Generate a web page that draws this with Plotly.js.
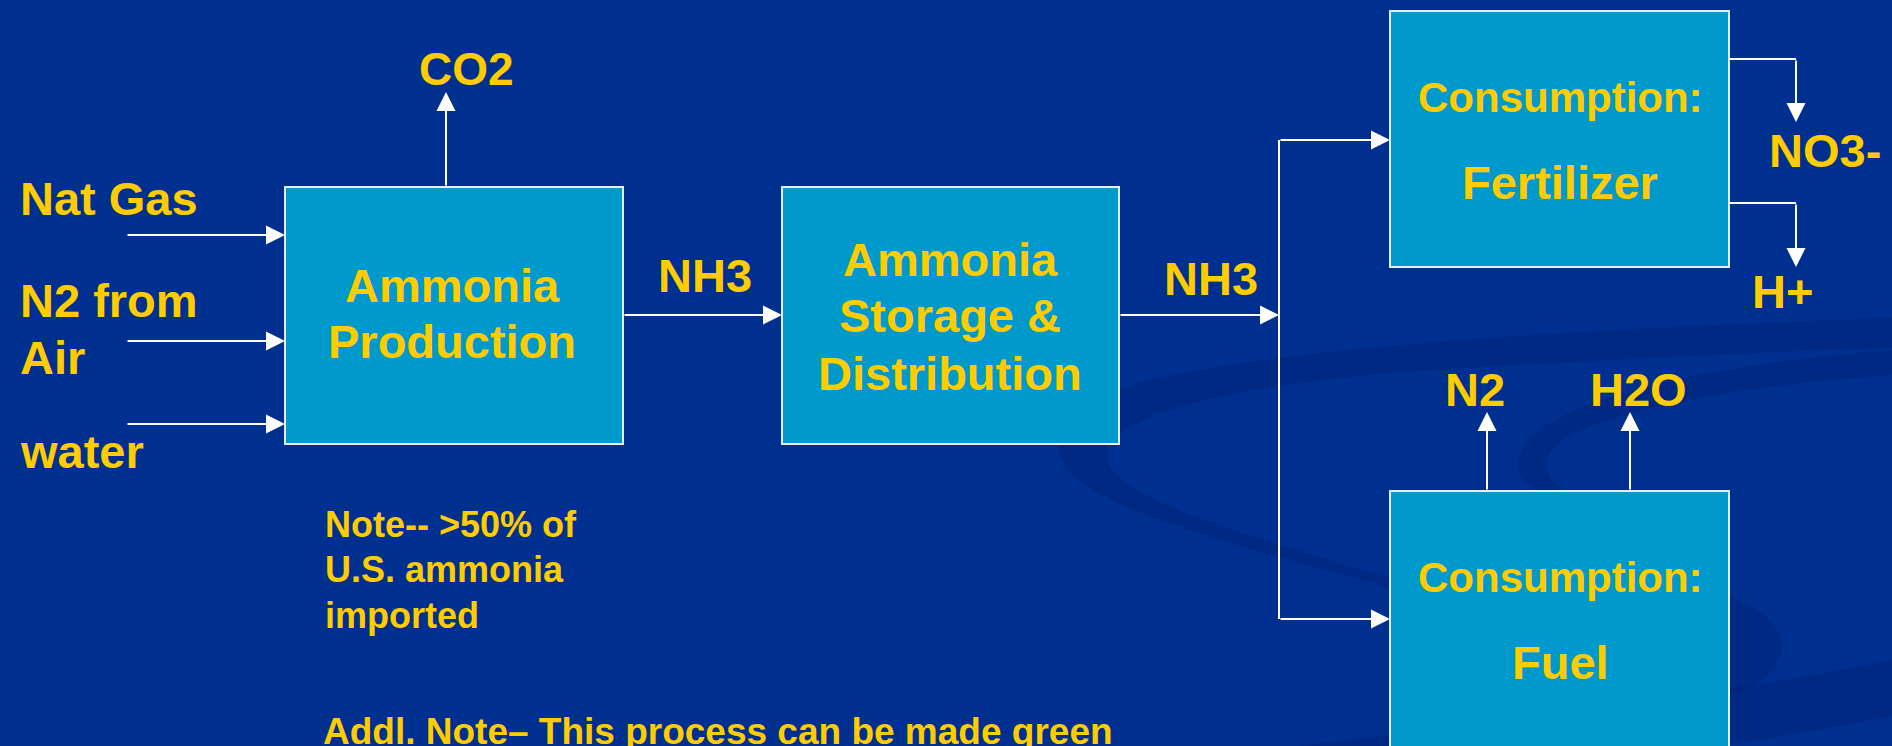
<!DOCTYPE html>
<html>
<head>
<meta charset="utf-8">
<script src="https://cdn.plot.ly/plotly-3.0.1.min.js"></script>
<style>
  html, body { margin: 0; padding: 0; background: #00308F; overflow: hidden; }
  #chart { width: 1892px; height: 746px; }
</style>
</head>
<body>
<div id="chart"></div>
<script>
// ---------------- DATA (labels of the process diagram) ----------------
const inputLabels = ["Nat Gas", "N2 from", "Air", "water"];
const processBoxes = ["Ammonia Production", "Ammonia Storage & Distribution", "Consumption: Fertilizer", "Consumption: Fuel"];
const boxLines = [
  ["Ammonia", "Production"],
  ["Ammonia", "Storage &", "Distribution"],
  ["Consumption:", "Fertilizer"],
  ["Consumption:", "Fuel"]
];
const flowLabels = ["CO2", "NH3", "NH3", "NO3-", "H+", "N2", "H2O"];
const noteLines = ["Note-- >50% of", "U.S. ammonia", "imported"];
const addlNote = ["Addl. Note\u2013 This process can be made green"];

// ---------------- LAYOUT GEOMETRY (pixels, y down) ----------------
const W = 1892, H = 746;
const GOLD = "#FFCC00";
const FONT = "Liberation Sans, Arial, sans-serif";
const boxGeom = [
  {x0: 285, x1: 623, y0: 187, y1: 444},
  {x0: 782, x1: 1119, y0: 187, y1: 444},
  {x0: 1390, x1: 1729, y0: 11, y1: 267},
  {x0: 1390, x1: 1729, y0: 491, y1: 770}
];
const boxLineGeom = [
  {cx: 452, base: [302, 358], size: [47, 47]},
  {cx: 950, base: [276, 332, 390], size: [47, 47, 47]},
  {cx: 1560, base: [112, 199], size: [42, 47]},
  {cx: 1560, base: [592, 679], size: [42, 47]}
];
const inputGeom = [
  {x: 18, base: 215}, {x: 18, base: 317}, {x: 18, base: 374}, {x: 18, base: 468}
];
const flowGeom = [
  {cx: 466, base: 85, size: 46},
  {cx: 705, base: 292, size: 47},
  {cx: 1211, base: 295, size: 47},
  {cx: 1825, base: 167, size: 47},
  {cx: 1782, base: 308, size: 47},
  {cx: 1475, base: 406, size: 47},
  {cx: 1638, base: 406, size: 47}
];
const noteGeom = {x: 323, base: [537, 582, 628], size: 36};
const addlGeom = {x: 321, base: [744], size: 37};

// arrows: [tailX, tailY, headX, headY]
const arrowGeom = [
  [126, 235, 285, 235],
  [126, 341, 285, 341],
  [126, 424, 285, 424],
  [446, 187, 446, 92],
  [623, 315, 782, 315],
  [1119, 315, 1279, 315],
  [1279, 140, 1390, 140],
  [1279, 619, 1390, 619],
  [1796, 59, 1796, 122],
  [1796, 203, 1796, 267],
  [1487, 491, 1487, 412],
  [1630, 491, 1630, 412]
];
const lineGeom = [
  [1279, 140, 1279, 619],
  [1729, 59, 1796, 59],
  [1729, 203, 1796, 203]
];

// ---------------- BUILD ----------------
const shapes = [];
const SW = "rgba(0,28,105,0.33)";
// subtle background swooshes
shapes.push({type: "path", layer: "below", line: {width: 0}, fillcolor: SW,
  path: "M 1892,318 C 1600,328 1300,345 1150,380 C 1080,397 1048,430 1062,460 C 1085,505 1200,535 1390,588 L 1390,578 C 1220,528 1120,497 1108,462 C 1096,425 1190,390 1400,372 C 1600,360 1750,352 1892,348 Z"});
shapes.push({type: "path", layer: "below", line: {width: 0}, fillcolor: SW,
  path: "M 1892,350 C 1700,365 1565,400 1528,440 C 1508,465 1520,484 1540,491 L 1565,491 C 1545,480 1540,462 1556,445 C 1605,408 1750,385 1892,375 Z"});
shapes.push({type: "path", layer: "below", line: {width: 0}, fillcolor: SW,
  path: "M 1729,597 C 1768,610 1790,635 1778,660 C 1768,680 1748,690 1729,693 Z"});
shapes.push({type: "path", layer: "below", line: {width: 0}, fillcolor: SW,
  path: "M 1300,746 C 1500,722 1750,690 1892,660 L 1892,716 C 1820,730 1760,740 1720,746 Z"});

boxGeom.forEach(b => {
  shapes.push({type: "rect", xref: "x", yref: "y", x0: b.x0, x1: b.x1, y0: b.y0, y1: b.y1,
    fillcolor: "#0099CC", line: {color: "#E4EEF6", width: 2}, layer: "above"});
});
lineGeom.forEach(l => {
  shapes.push({type: "line", xref: "x", yref: "y", x0: l[0], y0: l[1], x1: l[2], y1: l[3],
    line: {color: "#FFFFFF", width: 2}});
});

const annotations = [];
function txt(text, x, base, size, anchor) {
  annotations.push({
    text: "<b>" + text.replace(/&/g, "&amp;").replace(/>/g, "&gt;") + "</b>",
    x: x, y: base - 0.35 * size, xref: "x", yref: "y",
    xanchor: anchor, yanchor: "middle", showarrow: false,
    font: {family: FONT, size: size, color: GOLD}
  });
}
inputLabels.forEach((t, i) => txt(t, inputGeom[i].x, inputGeom[i].base, 47, "left"));
boxLines.forEach((lines, i) => {
  const g = boxLineGeom[i];
  lines.forEach((t, j) => txt(t, g.cx, g.base[j], g.size[j], "center"));
});
flowLabels.forEach((t, i) => txt(t, flowGeom[i].cx, flowGeom[i].base, flowGeom[i].size, "center"));
noteLines.forEach((t, i) => txt(t, noteGeom.x, noteGeom.base[i], noteGeom.size, "left"));
addlNote.forEach((t, i) => txt(t, addlGeom.x, addlGeom.base[i], addlGeom.size, "left"));

arrowGeom.forEach(a => {
  annotations.push({
    text: "", x: a[2], y: a[3], ax: a[0], ay: a[1],
    xref: "x", yref: "y", axref: "x", ayref: "y",
    showarrow: true, arrowhead: 2, arrowsize: 1.9, arrowwidth: 2,
    arrowcolor: "#FFFFFF", standoff: 0, startstandoff: 0
  });
});

const layout = {
  width: W, height: H,
  margin: {l: 0, r: 0, t: 0, b: 0, pad: 0},
  paper_bgcolor: "#00308F",
  plot_bgcolor: "rgba(0,0,0,0)",
  showlegend: false,
  xaxis: {range: [0, W], visible: false, fixedrange: true},
  yaxis: {range: [H, 0], visible: false, fixedrange: true},
  shapes: shapes,
  annotations: annotations
};

Plotly.newPlot("chart", [], layout, {staticPlot: true, displayModeBar: false});
</script>
</body>
</html>
